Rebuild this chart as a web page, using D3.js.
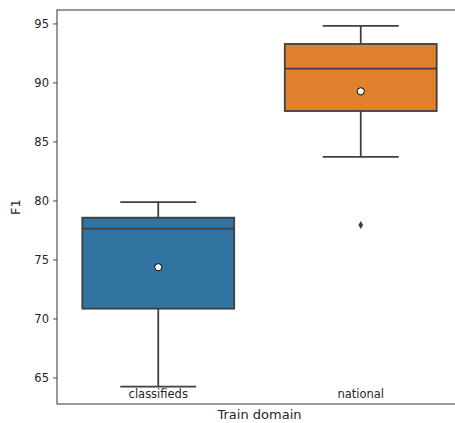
<!DOCTYPE html>
<html>
<head>
<meta charset="utf-8">
<script src="https://cdn.jsdelivr.net/npm/d3@7"></script>
<style>
  body { margin: 0; background: #fff; overflow: hidden; }
  svg { display: block; }
  text { font-family: "DejaVu Sans", sans-serif; fill: #262626; }
</style>
</head>
<body>
<div id="chart"></div>
<script>
// Data
const categories = ["classifieds", "national"];
const whiskerLow = [64.22, 83.69];
const q1 = [70.83, 87.58];
const median = [77.61, 91.17];
const q3 = [78.54, 93.26];
const whiskerHigh = [79.85, 94.79];
const means = [74.34, 89.25];
const outliers = [[], [77.92]];
const colors = ["#3274a1", "#e1812c"];
const yTicks = [65, 70, 75, 80, 85, 90, 95];

const boxes = categories.map((c, i) => ({
    cat: c, lo: whiskerLow[i], q1: q1[i], med: median[i], q3: q3[i],
    hi: whiskerHigh[i], mean: means[i], out: outliers[i], color: colors[i]
}));

// Set the dimensions and margins of the graph
const margin = {top: 10, right: -7, bottom: 19, left: 57};
const W = 455, H = 423;
const width = W - margin.left - margin.right;
const height = H - margin.top - margin.bottom;

const svg = d3.select("#chart")
    .append("svg")
    .attr("width", W)
    .attr("height", H)
    .append("g")
    .attr("transform", `translate(${margin.left},${margin.top})`);

// Scales
const xScale = d3.scaleBand()
    .domain(categories)
    .range([0, width])
    .paddingInner(0)
    .paddingOuter(0);

const yScale = d3.scaleLinear()
    .domain([62.75, 96.14])
    .range([height, 0]);

const bw = xScale.bandwidth() * 0.75;
const edge = "#3f3f3f";

const g = svg.selectAll(".box")
    .data(boxes)
    .enter()
    .append("g")
    .attr("class", "box")
    .attr("transform", d => `translate(${xScale(d.cat) + xScale.bandwidth() / 2},0)`);

// whiskers
g.append("line")
    .attr("x1", 0).attr("x2", 0)
    .attr("y1", d => yScale(d.lo)).attr("y2", d => yScale(d.q1))
    .attr("stroke", edge).attr("stroke-width", 1.8);
g.append("line")
    .attr("x1", 0).attr("x2", 0)
    .attr("y1", d => yScale(d.q3)).attr("y2", d => yScale(d.hi))
    .attr("stroke", edge).attr("stroke-width", 1.8);
// caps
g.selectAll(".cap")
    .data(d => [d.lo, d.hi])
    .enter()
    .append("line")
    .attr("x1", -bw / 4).attr("x2", bw / 4)
    .attr("y1", v => yScale(v)).attr("y2", v => yScale(v))
    .attr("stroke", edge).attr("stroke-width", 1.8);

// box
g.append("rect")
    .attr("x", -bw / 2)
    .attr("width", bw)
    .attr("y", d => yScale(d.q3))
    .attr("height", d => yScale(d.q1) - yScale(d.q3))
    .attr("fill", d => d.color)
    .attr("stroke", edge)
    .attr("stroke-width", 1.8);

// median
g.append("line")
    .attr("x1", -bw / 2).attr("x2", bw / 2)
    .attr("y1", d => yScale(d.med)).attr("y2", d => yScale(d.med))
    .attr("stroke", edge).attr("stroke-width", 1.8);

// mean marker
g.append("circle")
    .attr("cx", 0)
    .attr("cy", d => yScale(d.mean))
    .attr("r", 3.6)
    .attr("fill", "white")
    .attr("stroke", "black")
    .attr("stroke-width", 1);

// outliers (diamonds)
g.selectAll(".flier")
    .data(d => d.out)
    .enter()
    .append("path")
    .attr("d", v => {
        const y = yScale(v);
        return `M0,${y - 4}L2.4,${y}L0,${y + 4}L-2.4,${y}Z`;
    })
    .attr("fill", edge);

// Y axis
const yAxis = svg.append("g")
    .call(d3.axisLeft(yScale).tickValues(yTicks).tickSize(4).tickPadding(4));
yAxis.select(".domain").remove();
yAxis.selectAll("line").attr("stroke", "#333").attr("stroke-width", 0.9);
yAxis.selectAll("text").style("font-size", "11.5px").attr("fill", "#262626");

// category labels (sit inside the plot)
svg.selectAll(".xlab")
    .data(categories)
    .enter()
    .append("text")
    .attr("x", d => xScale(d) + xScale.bandwidth() / 2)
    .attr("y", height - 6)
    .attr("text-anchor", "middle")
    .style("font-size", "11.5px")
    .text(d => d);

// spines
svg.append("rect")
    .attr("x", 0).attr("y", 0)
    .attr("width", width).attr("height", height)
    .attr("fill", "none")
    .attr("stroke", "#333")
    .attr("stroke-width", 1);

// axis titles
svg.append("text")
    .attr("x", width / 2)
    .attr("y", height + 15)
    .attr("text-anchor", "middle")
    .style("font-size", "13px")
    .text("Train domain");

svg.append("text")
    .attr("transform", "rotate(-90)")
    .attr("x", -height / 2)
    .attr("y", -37)
    .attr("text-anchor", "middle")
    .style("font-size", "13px")
    .text("F1");
</script>
</body>
</html>
